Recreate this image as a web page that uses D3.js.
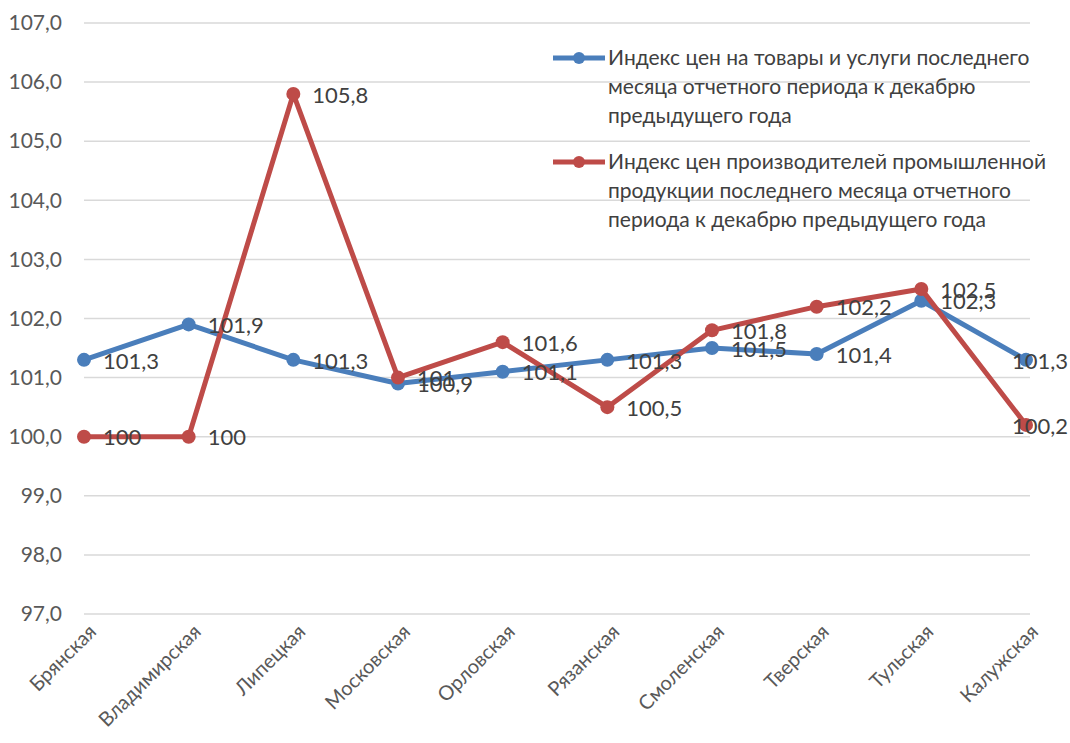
<!DOCTYPE html>
<html>
<head>
<meta charset="utf-8">
<script src="https://cdn.jsdelivr.net/npm/d3@7"></script>
<style>
  body { margin: 0; background: #fff; }
  text { font-family: Lato, "Open Sans", sans-serif; }
</style>
</head>
<body>
<div id="chart"></div>
<script>
// regions
var regions = ["Брянская", "Владимирская", "Липецкая", "Московская", "Орловская",
    "Рязанская", "Смоленская", "Тверская", "Тульская", "Калужская"];

// consumer price index
var cpiValues = [101.3, 101.9, 101.3, 100.9, 101.1, 101.3, 101.5, 101.4, 102.3, 101.3];

// producer price index
var ppiValues = [100, 100, 105.8, 101, 101.6, 100.5, 101.8, 102.2, 102.5, 100.2];

var yTicks = [97, 98, 99, 100, 101, 102, 103, 104, 105, 106, 107];

var legendLines = [
    ["Индекс цен на товары и услуги последнего", "месяца отчетного периода к декабрю", "предыдущего года"],
    ["Индекс цен производителей промышленной", "продукции последнего месяца отчетного", "периода к декабрю предыдущего года"]
];

var w = 1070, h = 743;

var svg = d3.select("#chart")
    .append("svg")
    .attr("width", w)
    .attr("height", h);

var x = d3.scalePoint()
    .domain(regions)
    .range([84, 1026]);

var y = d3.scaleLinear()
    .domain([97, 107])
    .range([614, 23]);

function fmt(v) {
    return d3.format("~g")(v).replace(".", ",");
}

// horizontal gridlines
svg.selectAll("line.grid")
    .data(yTicks)
    .enter()
    .append("line")
    .attr("class", "grid")
    .attr("x1", 84)
    .attr("x2", 1030)
    .attr("y1", function(d) { return y(d); })
    .attr("y2", function(d) { return y(d); })
    .attr("stroke", "#d9d9d9")
    .attr("stroke-width", 1.5);

// y axis labels
var yAxis = d3.axisLeft(y)
    .tickValues(yTicks)
    .tickSize(0)
    .tickPadding(0)
    .tickFormat(function(d) { return d3.format(".1f")(d).replace(".", ","); });

var gy = svg.append("g")
    .attr("transform", "translate(62,0)")
    .call(yAxis);
gy.select(".domain").remove();
gy.selectAll("text")
    .attr("font-size", "21px")
    .attr("fill", "#595959")
    .style("font-family", "Lato, 'Open Sans', sans-serif");

// x axis labels, rotated
var xAxis = d3.axisBottom(x).tickSize(0).tickPadding(0);
var gx = svg.append("g")
    .attr("transform", "translate(0,628)")
    .call(xAxis);
gx.select(".domain").remove();
gx.selectAll("text")
    .attr("font-size", "20px")
    .attr("fill", "#595959")
    .style("font-family", "Lato, 'Open Sans', sans-serif")
    .attr("text-anchor", "end")
    .attr("dy", "0.35em")
    .attr("transform", "translate(8,0) rotate(-45)");

var series = [
    { values: cpiValues, color: "#4a7ebb" },
    { values: ppiValues, color: "#be4b48" }
];

var line = d3.line()
    .x(function(d, i) { return x(regions[i]); })
    .y(function(d) { return y(d); });

series.forEach(function(s) {
    svg.append("path")
        .datum(s.values)
        .attr("d", line)
        .attr("fill", "none")
        .attr("stroke", s.color)
        .attr("stroke-width", 5)
        .attr("stroke-linejoin", "round");

    svg.selectAll(null)
        .data(s.values)
        .enter()
        .append("circle")
        .attr("cx", function(d, i) { return x(regions[i]); })
        .attr("cy", function(d) { return y(d); })
        .attr("r", 7)
        .attr("fill", s.color);
});

// data labels (pushed back inside at the right edge)
series.forEach(function(s) {
    svg.selectAll(null)
        .data(s.values)
        .enter()
        .append("text")
        .text(function(d) { return fmt(d); })
        .attr("x", function(d, i) { return x(regions[i]) + 19; })
        .attr("y", function(d) { return y(d) + 1; })
        .attr("dy", "0.35em")
        .attr("font-size", "22px")
        .attr("fill", "#404040")
        .each(function() {
            var bb = this.getBBox();
            if (bb.x + bb.width > 1068) {
                d3.select(this).attr("x", 1068 - bb.width);
            }
        });
});

// legend
var legend = svg.append("g");
var legendTop = [58, 162];
series.forEach(function(s, k) {
    var ly = legendTop[k];
    legend.append("line")
        .attr("x1", 553).attr("x2", 605)
        .attr("y1", ly).attr("y2", ly)
        .attr("stroke", s.color)
        .attr("stroke-width", 5);
    legend.append("circle")
        .attr("cx", 579).attr("cy", ly)
        .attr("r", 6)
        .attr("fill", s.color);
    legendLines[k].forEach(function(t, j) {
        legend.append("text")
            .attr("x", 608)
            .attr("y", ly + j * 29)
            .attr("dy", "0.35em")
            .attr("font-size", "21px")
            .attr("fill", "#404040")
            .text(t);
    });
});
</script>
</body>
</html>
